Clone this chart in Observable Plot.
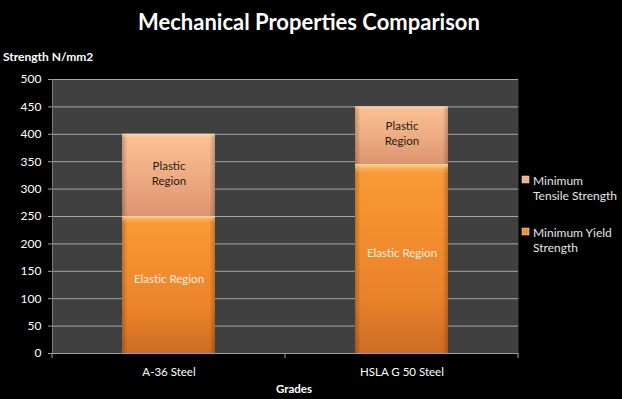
<!DOCTYPE html>
<html>
<head>
<meta charset="utf-8">
<script src="https://cdn.jsdelivr.net/npm/d3@7"></script>
<script src="https://cdn.jsdelivr.net/npm/@observablehq/plot@0.6"></script>
<style>
  html, body { margin: 0; padding: 0; background: #000; }
  #chart { width: 622px; height: 399px; }
</style>
</head>
<body>
<div id="chart"></div>
<script>
const title = "Mechanical Properties Comparison";
const yAxisTitle = "Strength N/mm2";
const xAxisTitle = "Grades";
const grades = ["A-36 Steel", "HSLA G 50 Steel"];
const yieldStrength = [250, 345];
const tensileStrength = [400, 450];
const yTicks = [0, 50, 100, 150, 200, 250, 300, 350, 400, 450, 500];
const seriesNames = ["Minimum Tensile Strength", "Minimum Yield Strength"];
const regionLabels = ["Elastic Region", "Plastic\nRegion"];

const yieldRows = grades.map((g, i) => ({grade: g, y1: 0, y2: yieldStrength[i], label: regionLabels[0]}));
const plasticRows = grades.map((g, i) => ({grade: g, y1: yieldStrength[i], y2: tensileStrength[i], label: regionLabels[1]}));
const allRows = yieldRows.concat(plasticRows);

const font = "Lato, 'Open Sans', sans-serif";

const chart = Plot.plot({
  width: 622,
  height: 399,
  marginLeft: 52,
  marginRight: 104,
  marginTop: 79,
  marginBottom: 46,
  style: {background: "#000", color: "#fff", fontFamily: font, overflow: "visible"},
  x: {domain: grades, paddingInner: 0.6, paddingOuter: 0.3, axis: null, label: null},
  y: {domain: [0, 500], axis: null, label: null},
  marks: [
    Plot.frame({fill: "#404040"}),
    Plot.ruleY(yTicks.filter(v => v > 0), {stroke: "#a6a6a6", strokeWidth: 1}),
    Plot.axisY({ticks: yTicks, tickSize: 4, tickPadding: 7, stroke: "#a0a0a0", fontSize: 12, label: null, tickFormat: d => String(d)}),
    Plot.axisX({tickSize: 0, tickPadding: 14, fontSize: 11.5, label: null}),
    Plot.barY(yieldRows, {x: "grade", y1: "y1", y2: "y2", fill: "url(#gYield)"}),
    Plot.barY(plasticRows, {x: "grade", y1: "y1", y2: "y2", fill: "url(#gTensile)"}),
    Plot.barY(allRows, {x: "grade", y1: "y1", y2: "y2", fill: "url(#gEdge)"}),
    Plot.barY(allRows, {x: "grade", y1: "y1", y2: "y2", fill: "url(#gTop)"}),
    Plot.ruleY([0], {stroke: "#a0a0a0"}),
    Plot.frame({anchor: "left", stroke: "#7a7a7a"}),
    Plot.text(yieldRows, {x: "grade", y: d => (d.y1 + d.y2) / 2, text: "label", fill: "#fbeee0", fontSize: 11.5, dy: -6}),
    Plot.text(plasticRows, {x: "grade", y: d => (d.y1 + d.y2) / 2, text: "label", fill: "#2a1a10", fontSize: 11.5, lineHeight: 1.3, dy: -3})
  ]
});

document.getElementById("chart").appendChild(chart);

const svg = d3.select(chart);
const defs = svg.insert("defs", ":first-child");

function vgrad(id, stops) {
  const g = defs.append("linearGradient").attr("id", id).attr("x1", 0).attr("y1", 0).attr("x2", 0).attr("y2", 1);
  stops.forEach(([o, c, a]) => g.append("stop").attr("offset", o).attr("stop-color", c).attr("stop-opacity", a == null ? 1 : a));
}
vgrad("gYield", [[0, "#f99a38"], [0.3, "#f59030"], [0.7, "#e9822a"], [1, "#cd6c22"]]);
vgrad("gTensile", [[0, "#fbc294"], [0.5, "#eeac82"], [1, "#dc9470"]]);
vgrad("gTop", [[0, "#fff0c8", 0.75], [0.025, "#ffe0a8", 0.25], [0.05, "#ffffff", 0], [1, "#ffffff", 0]]);
const ge = defs.append("linearGradient").attr("id", "gEdge").attr("x1", 0).attr("y1", 0).attr("x2", 1).attr("y2", 0);
[[0, "#000", 0.22], [0.06, "#000", 0], [0.94, "#000", 0], [1, "#000", 0.22]].forEach(([o, c, a]) =>
  ge.append("stop").attr("offset", o).attr("stop-color", c).attr("stop-opacity", a));

// Category boundary tick marks on the x axis, from Plot's x scale
const xs = chart.scale("x");
const ys = chart.scale("y");
const gap = (xs.step - xs.bandwidth) / 2;
const bounds = grades.map(g => xs.apply(g) - gap).concat([xs.apply(grades[grades.length - 1]) + xs.bandwidth + gap]);
const y0 = ys.apply(0);
svg.append("g").selectAll("line").data(bounds).join("line")
  .attr("x1", d => d).attr("x2", d => d).attr("y1", y0).attr("y2", y0 + 5)
  .attr("stroke", "#a0a0a0");

// Titles
const t = svg.append("g").attr("font-family", font).attr("fill", "#fff");
t.append("text").attr("x", 309).attr("y", 30).attr("text-anchor", "middle")
  .attr("font-size", 22).attr("font-weight", "bold").text(title);
t.append("text").attr("x", 3).attr("y", 61).attr("text-anchor", "start")
  .attr("font-size", 12).attr("font-weight", "bold").text(yAxisTitle);
t.append("text").attr("x", 294).attr("y", 393).attr("text-anchor", "middle")
  .attr("font-size", 11.5).attr("font-weight", "bold").text(xAxisTitle);

// Legend
const legend = svg.append("g").attr("font-family", font).attr("font-size", 12)
  .attr("fill", "#e6e6e6").attr("text-anchor", "start");
const legendItems = [
  {name: seriesNames[0], lines: ["Minimum", "Tensile Strength"], y: 176, color: "#f0b084"},
  {name: seriesNames[1], lines: ["Minimum Yield", "Strength"], y: 228, color: "#f39030"}
];
legendItems.forEach(it => {
  legend.append("rect").attr("x", 522).attr("y", it.y).attr("width", 7).attr("height", 7)
    .attr("fill", it.color).attr("stroke", "#ffe0b0").attr("stroke-width", 0.5);
  it.lines.forEach((ln, j) => legend.append("text").attr("x", 533).attr("y", it.y + 9 + j * 15).text(ln));
});
</script>
</body>
</html>
